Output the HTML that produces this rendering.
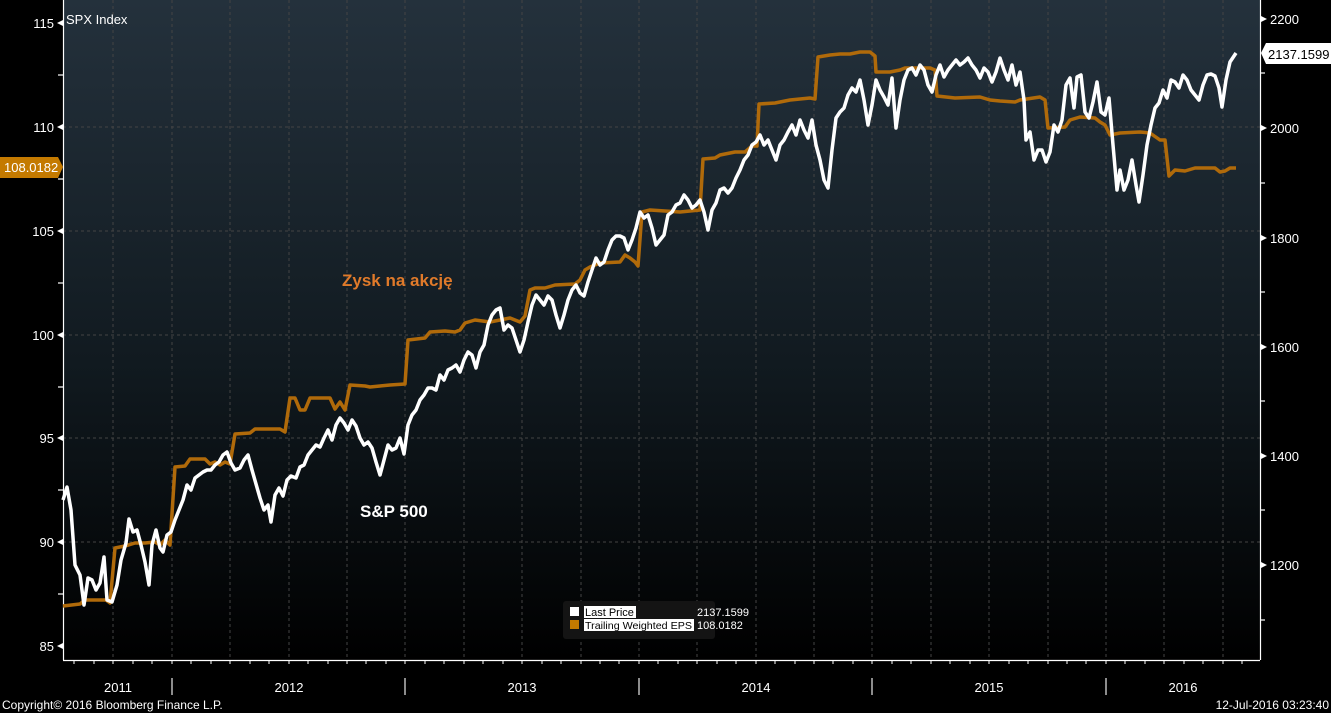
<!DOCTYPE html>
<html><head><meta charset="utf-8"><style>
html,body{margin:0;padding:0;background:#000;}
svg{display:block;font-family:"Liberation Sans",sans-serif;}
</style></head><body>
<svg width="1331" height="713" viewBox="0 0 1331 713" xmlns="http://www.w3.org/2000/svg">
<defs><linearGradient id="bg" x1="0" y1="0" x2="0" y2="1">
<stop offset="0" stop-color="#24313c"/><stop offset="0.55" stop-color="#111a20"/><stop offset="1" stop-color="#000"/></linearGradient></defs>
<rect width="1331" height="713" fill="#000"/>
<rect x="63" y="0" width="1197" height="660" fill="url(#bg)"/>
<g stroke="#444" stroke-width="1" stroke-dasharray="3,3">
<line x1="113" y1="0" x2="113" y2="660"/><line x1="172" y1="0" x2="172" y2="660"/><line x1="230" y1="0" x2="230" y2="660"/><line x1="289" y1="0" x2="289" y2="660"/><line x1="347" y1="0" x2="347" y2="660"/><line x1="405" y1="0" x2="405" y2="660"/><line x1="464" y1="0" x2="464" y2="660"/><line x1="522" y1="0" x2="522" y2="660"/><line x1="581" y1="0" x2="581" y2="660"/><line x1="639" y1="0" x2="639" y2="660"/><line x1="697" y1="0" x2="697" y2="660"/><line x1="756" y1="0" x2="756" y2="660"/><line x1="814" y1="0" x2="814" y2="660"/><line x1="872" y1="0" x2="872" y2="660"/><line x1="931" y1="0" x2="931" y2="660"/><line x1="989" y1="0" x2="989" y2="660"/><line x1="1048" y1="0" x2="1048" y2="660"/><line x1="1106" y1="0" x2="1106" y2="660"/><line x1="1164" y1="0" x2="1164" y2="660"/><line x1="1223" y1="0" x2="1223" y2="660"/>
<line x1="63" y1="127" x2="1260" y2="127"/><line x1="63" y1="231" x2="1260" y2="231"/><line x1="63" y1="335" x2="1260" y2="335"/><line x1="63" y1="438" x2="1260" y2="438"/><line x1="63" y1="542" x2="1260" y2="542"/>
</g>
<g stroke="#fff" stroke-width="1.2">
<line x1="63.5" y1="0" x2="63.5" y2="660"/><line x1="1260.5" y1="0" x2="1260.5" y2="660"/><line x1="63" y1="660.5" x2="1260" y2="660.5"/>
<line x1="58" y1="75" x2="63" y2="75"/><line x1="58" y1="179" x2="63" y2="179"/><line x1="58" y1="283" x2="63" y2="283"/><line x1="58" y1="387" x2="63" y2="387"/><line x1="58" y1="490" x2="63" y2="490"/><line x1="58" y1="594" x2="63" y2="594"/>
<line x1="1260" y1="73" x2="1265" y2="73"/><line x1="1260" y1="183" x2="1265" y2="183"/><line x1="1260" y1="292" x2="1265" y2="292"/><line x1="1260" y1="401" x2="1265" y2="401"/><line x1="1260" y1="510" x2="1265" y2="510"/><line x1="1260" y1="620" x2="1265" y2="620"/>
</g>
<path stroke="#fff" stroke-width="1" d="M74,660v4M94,660v4M113,660v4M133,660v4M152,660v4M172,660v4M191,660v4M211,660v4M230,660v4M250,660v4M269,660v4M289,660v4M308,660v4M328,660v4M347,660v4M366,660v4M386,660v4M405,660v4M425,660v4M444,660v4M464,660v4M483,660v4M503,660v4M522,660v4M542,660v4M561,660v4M581,660v4M600,660v4M619,660v4M639,660v4M658,660v4M678,660v4M697,660v4M717,660v4M736,660v4M756,660v4M775,660v4M795,660v4M814,660v4M833,660v4M853,660v4M872,660v4M892,660v4M911,660v4M931,660v4M950,660v4M970,660v4M989,660v4M1009,660v4M1028,660v4M1048,660v4M1067,660v4M1086,660v4M1106,660v4M1125,660v4M1145,660v4M1164,660v4M1184,660v4M1203,660v4M1223,660v4M1242,660v4"/>
<g stroke="#bbb" stroke-width="1.5"><line x1="172" y1="678" x2="172" y2="695"/><line x1="405" y1="678" x2="405" y2="695"/><line x1="639" y1="678" x2="639" y2="695"/><line x1="872" y1="678" x2="872" y2="695"/><line x1="1106" y1="678" x2="1106" y2="695"/></g>
<g fill="#fff">
<polygon points="57,23 63,20 63,26"/><polygon points="57,127 63,124 63,130"/><polygon points="57,231 63,228 63,234"/><polygon points="57,335 63,332 63,338"/><polygon points="57,438 63,435 63,441"/><polygon points="57,542 63,539 63,545"/><polygon points="57,646 63,643 63,649"/>
<polygon points="1267,19 1261,16 1261,22"/><polygon points="1267,128 1261,125 1261,131"/><polygon points="1267,238 1261,235 1261,241"/><polygon points="1267,347 1261,344 1261,350"/><polygon points="1267,456 1261,453 1261,459"/><polygon points="1267,565 1261,562 1261,568"/>
</g>
<g fill="#fff" font-size="13" text-anchor="end">
<text x="54" y="28">115</text><text x="54" y="132">110</text><text x="54" y="236">105</text><text x="54" y="340">100</text><text x="54" y="443">95</text><text x="54" y="547">90</text><text x="54" y="651">85</text>
</g>
<g fill="#fff" font-size="13">
<text x="1270" y="24">2200</text><text x="1270" y="133">2000</text><text x="1270" y="243">1800</text><text x="1270" y="352">1600</text><text x="1270" y="461">1400</text><text x="1270" y="570">1200</text>
<text x="66" y="24">SPX Index</text>
</g>
<polygon points="0,157 58,157 63,167 58,178 0,178" fill="#c47a00"/>
<text x="4" y="172" fill="#fff" font-size="13">108.0182</text>
<polygon points="1261,53 1266,43 1331,43 1331,64 1266,64" fill="#fff"/>
<text x="1268" y="59" fill="#000" font-size="13">2137.1599</text>
<g fill="#fff" font-size="13" text-anchor="middle">
<text x="118" y="692">2011</text><text x="289" y="692">2012</text><text x="522" y="692">2013</text><text x="756" y="692">2014</text><text x="989" y="692">2015</text><text x="1183" y="692">2016</text>
</g>
<text x="2" y="709" fill="#fff" font-size="12">Copyright© 2016 Bloomberg Finance L.P.</text>
<text x="1329" y="709" fill="#fff" font-size="12" text-anchor="end">12-Jul-2016 03:23:40</text>
<polyline fill="none" stroke="#b06a0a" stroke-width="3.5" stroke-linejoin="round" points="63,606 80,604 85,600 106,600 110,603 115,548 125,546 135,543 145,543 155,542 160,545 165,540 170,545 175,467 185,466 190,459 205,459 210,464 215,462 220,465 225,462 230,464 235,434 250,433 255,429 280,429 285,432 290,398 295,398 300,410 305,410 310,398 330,398 335,409 340,402 345,410 350,385 365,386 370,387 380,386 390,385 405,384 408,340 425,338 430,332 445,331 455,332 460,330 465,323 475,320 490,322 510,318 520,322 525,316 530,290 535,288 545,288 555,285 575,284 580,280 585,270 590,267 600,263 620,262 625,255 630,258 635,262 638,266 642,212 650,210 665,211 680,212 700,210 703,159 715,158 720,155 735,152 745,152 752,146 757,146 759,104 775,103 790,100 810,98 815,99 818,57 830,55 840,54 850,54 860,52 870,52 875,56 876,72 890,72 900,70 905,68 930,68 935,70 937,96 955,98 980,97 990,100 1000,101 1015,102 1020,100 1040,97 1045,100 1048,128 1065,127 1070,120 1080,117 1095,118 1100,122 1105,125 1110,135 1120,133 1140,132 1150,133 1160,140 1165,140 1169,176 1175,170 1185,171 1195,168 1215,168 1220,172 1225,171 1230,168 1236,168"/>
<polyline fill="none" stroke="#fff" stroke-width="3.5" stroke-linejoin="round" points="63,500 67,487 71,510 75,565 80,575 84,605 88,578 92,580 96,590 100,583 104,557 107,600 112,602 117,585 121,560 126,543 129,519 133,532 137,530 141,545 145,562 149,585 152,545 156,530 160,548 163,552 167,535 171,532 175,520 179,510 183,500 187,485 191,490 195,478 199,475 203,472 207,470 211,470 215,465 219,462 223,455 227,452 231,463 235,470 240,468 244,460 248,455 252,470 256,484 260,498 264,510 268,505 271,522 275,495 279,488 283,496 287,480 291,476 296,478 300,467 304,465 308,455 312,450 316,445 320,447 324,438 328,430 332,440 336,425 340,418 344,423 348,430 352,420 356,426 360,438 364,445 368,442 372,448 376,462 380,475 384,460 388,445 392,450 396,448 400,438 404,454 408,425 412,415 416,410 420,400 424,395 428,388 432,388 436,390 440,375 444,380 448,370 452,368 456,365 460,372 464,360 468,352 472,355 476,368 480,352 484,345 488,325 492,315 496,310 500,308 504,330 508,325 512,328 516,340 520,352 524,340 528,322 532,305 536,295 540,300 544,305 548,296 552,300 556,315 560,328 564,315 568,300 572,290 576,285 580,293 584,296 588,282 592,270 596,258 600,265 604,262 608,250 612,240 616,236 620,236 624,238 628,250 632,240 636,228 640,212 644,218 648,215 652,228 656,245 660,240 664,235 668,215 672,212 676,205 680,203 684,195 688,200 692,208 696,205 700,200 704,212 708,230 712,210 716,203 720,190 724,188 728,193 732,188 736,178 740,170 744,160 748,155 752,145 756,142 760,135 764,145 768,140 772,150 776,160 780,145 784,140 788,132 792,125 796,135 800,120 804,130 808,138 812,120 816,145 820,160 824,180 828,188 832,150 836,118 840,112 844,108 848,95 852,88 856,92 860,80 864,100 868,125 872,105 876,80 880,90 884,97 888,105 892,78 896,128 900,100 904,80 908,70 912,68 916,75 920,65 924,70 928,85 932,92 936,75 940,65 944,77 948,70 952,65 956,60 960,65 964,62 968,58 972,65 976,70 980,78 984,68 988,72 992,82 996,72 1000,58 1004,70 1008,80 1012,65 1016,85 1020,72 1024,100 1026,140 1030,132 1034,160 1038,150 1042,150 1046,162 1050,152 1054,125 1058,132 1062,120 1066,85 1070,78 1074,108 1077,77 1081,75 1085,112 1089,118 1093,102 1097,82 1101,112 1105,115 1109,98 1113,145 1117,190 1120,170 1124,190 1128,180 1132,160 1136,185 1139,202 1143,175 1147,145 1151,125 1155,108 1159,103 1163,90 1167,98 1171,80 1175,82 1179,88 1183,75 1187,80 1191,90 1195,95 1199,100 1203,85 1207,75 1211,74 1215,76 1219,88 1222,107 1226,80 1230,62 1234,56 1236,53"/>
<text x="342" y="286" fill="#e07a2a" font-size="17" font-weight="bold">Zysk na akcję</text>
<text x="360" y="517" fill="#fff" font-size="17" font-weight="bold">S&amp;P 500</text>
<rect x="563" y="601" width="152" height="38" rx="3" fill="#141414"/>
<rect x="570" y="607" width="9" height="9" fill="#fff"/>
<rect x="570" y="620" width="9" height="9" fill="#c47a00"/>
<rect x="584" y="606" width="52" height="12" fill="#fff"/>
<rect x="584" y="619" width="110" height="12" fill="#fff"/>
<text x="585" y="616" fill="#000" font-size="11">Last Price</text>
<text x="585" y="629" fill="#000" font-size="10.5" textLength="107" lengthAdjust="spacingAndGlyphs">Trailing Weighted EPS</text>
<text x="697" y="616" fill="#fff" font-size="11">2137.1599</text>
<text x="697" y="629" fill="#fff" font-size="11">108.0182</text>
</svg>
</body></html>
